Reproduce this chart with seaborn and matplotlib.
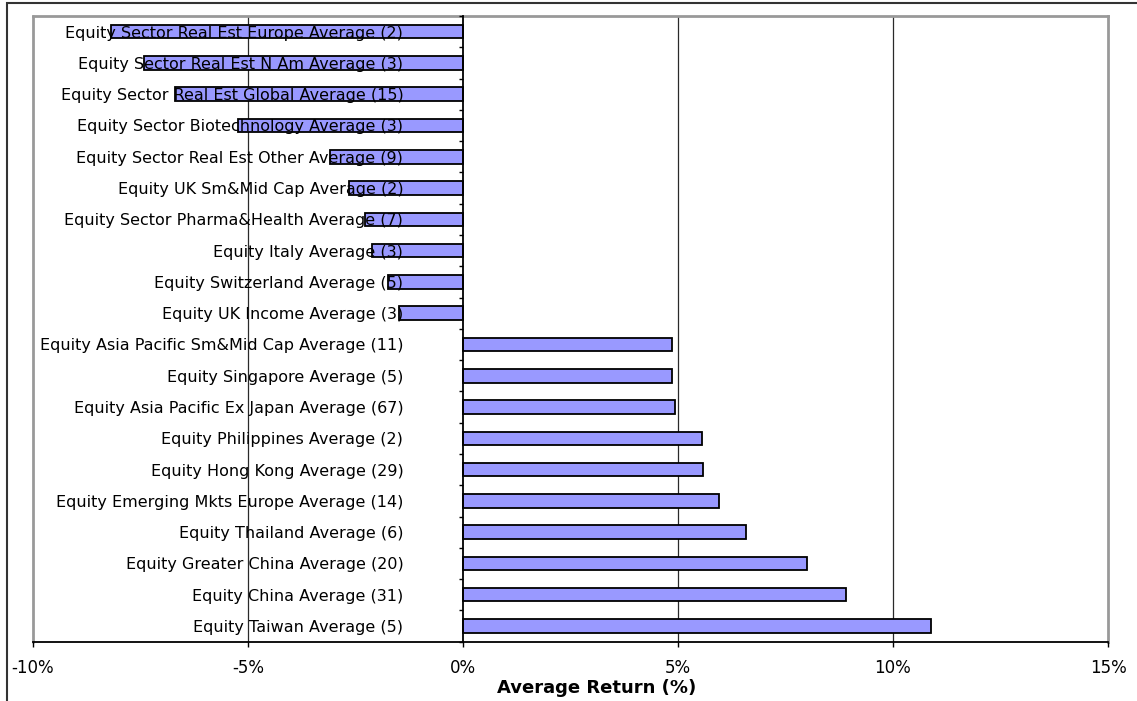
import matplotlib
matplotlib.use("Agg")
import matplotlib.pyplot as plt
import seaborn as sns
import pandas as pd
import numpy as np
from matplotlib.ticker import FixedLocator, FuncFormatter
from matplotlib.patches import Rectangle

# Sector averages, listed top to bottom
categories = [
    "Equity Sector Real Est Europe Average (2)",
    "Equity Sector Real Est N Am Average (3)",
    "Equity Sector Real Est Global Average (15)",
    "Equity Sector Biotechnology Average (3)",
    "Equity Sector Real Est Other Average (9)",
    "Equity UK Sm&Mid Cap Average (2)",
    "Equity Sector Pharma&Health Average (7)",
    "Equity Italy Average (3)",
    "Equity Switzerland Average (5)",
    "Equity UK Income Average (3)",
    "Equity Asia Pacific Sm&Mid Cap Average (11)",
    "Equity Singapore Average (5)",
    "Equity Asia Pacific Ex Japan Average (67)",
    "Equity Philippines Average (2)",
    "Equity Hong Kong Average (29)",
    "Equity Emerging Mkts Europe Average (14)",
    "Equity Thailand Average (6)",
    "Equity Greater China Average (20)",
    "Equity China Average (31)",
    "Equity Taiwan Average (5)",
]
avg_return = [
    -8.18, -7.43, -6.70, -5.23, -3.09, -2.66, -2.29, -2.12, -1.74, -1.48,
    4.86, 4.86, 4.94, 5.56, 5.59, 5.95, 6.58, 8.01, 8.91, 10.89,
]
x_ticks = [-10, -5, 0, 5, 10, 15]
x_label = "Average Return (%)"

sns.set_theme(style="white")
plt.rcParams["font.family"] = ["DejaVu Sans"]

W, H = 1137, 701
fig = plt.figure(figsize=(W / 100, H / 100), dpi=100)
left, right, top, bottom = 33, 1108, 16, 641.7
ax = fig.add_axes([left / W, 1 - bottom / H, (right - left) / W, (bottom - top) / H])

df = pd.DataFrame({"Sector": categories, "Average Return": avg_return})
sns.barplot(
    data=df, x="Average Return", y="Sector", order=categories,
    color="#9999FF", saturation=1, edgecolor="black", linewidth=1.3,
    width=0.43, ax=ax, zorder=2,
)
# category labels are drawn over the bars
ax.set_axisbelow(False)

ax.set_xlim(x_ticks[0], x_ticks[-1])
ax.set_ylim(len(categories) - 0.5, -0.5)

# vertical gridlines
for g in x_ticks[1:-1]:
    if g != 0:
        ax.axvline(g, color="#2a2a2a", lw=0.9, zorder=1)

# frame: gray plot border, black category axis at zero and black value axis
for s in ["top", "right"]:
    ax.spines[s].set_color("#999999")
    ax.spines[s].set_linewidth(2)
ax.spines["bottom"].set_color("black")
ax.spines["bottom"].set_linewidth(1.3)
ax.spines["left"].set_position(("data", 0))
ax.spines["left"].set_color("black")
ax.spines["left"].set_linewidth(1.3)
ax.spines["left"].set_zorder(4)
ax.axvline(x_ticks[0], color="#999999", lw=2, clip_on=False, zorder=0.5)

# x axis ticks
ax.xaxis.set_major_locator(FixedLocator(x_ticks))
ax.xaxis.set_major_formatter(FuncFormatter(lambda v, p: f"{v:.0f}%"))
ax.tick_params(axis="x", which="major", direction="out", length=3.6, width=1,
               color="black", bottom=True, labelsize=12, pad=9, labelcolor="black")

# y axis: labels with no tick marks, small marks between categories
ax.set_yticks(np.arange(len(categories)))
ax.set_yticklabels(categories)
ax.yaxis.set_minor_locator(FixedLocator(np.arange(len(categories) + 1) - 0.5))
ax.tick_params(axis="y", which="major", length=0, pad=43, labelsize=11.5,
               labelcolor="black", left=True)
ax.tick_params(axis="y", which="minor", direction="out", length=3, width=1,
               color="black", left=True)

ax.set_xlabel("")
ax.set_ylabel("")
fig.text(597 / W, 1 - 688 / H, x_label, ha="center", va="center",
         fontsize=13, fontweight="bold", color="black")

# outer chart border
fig.add_artist(Rectangle((7 / W, -0.1), 1.2, 1.1 - 3 / H, transform=fig.transFigure,
                         fill=False, edgecolor="#333333", lw=1.5))

fig.savefig("out.png", dpi=100)
